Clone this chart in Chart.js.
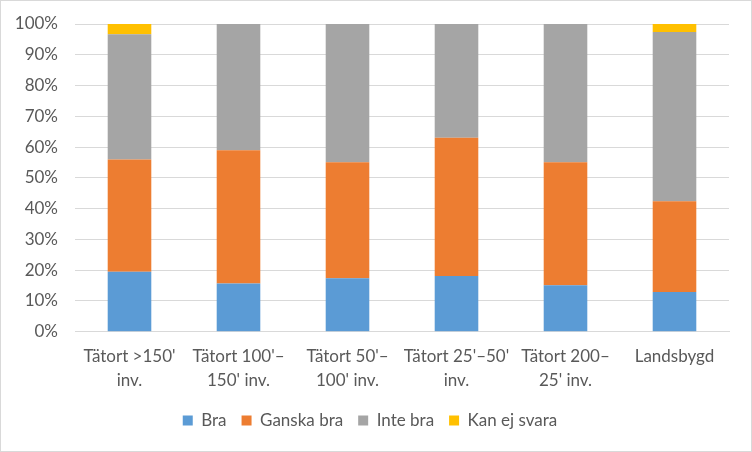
<!DOCTYPE html>
<html>
<head>
<meta charset="utf-8">
<script src="https://cdn.jsdelivr.net/npm/chart.js@4/dist/chart.umd.min.js"></script>
<style>
  html, body { margin: 0; padding: 0; background: #fff; }
  #wrap { width: 750px; height: 450px; border: 1px solid #d9d9d9; }
</style>
</head>
<body>
<div id="wrap"><canvas id="chart" width="750" height="450"></canvas></div>
<script>
// andelar i procent
const categories = [
  ["Tätort >150'", 'inv.'],
  ["Tätort 100'–", "150' inv."],
  ["Tätort 50'–", "100' inv."],
  ["Tätort 25'–50'", 'inv.'],
  ['Tätort 200–', "25' inv."],
  'Landsbygd'
];
const bra = [19.5, 15.7, 17.4, 18.1, 15.1, 12.9];
const ganskaBra = [36.5, 43.3, 37.7, 44.9, 40.0, 29.5];
const inteBra = [40.7, 41.0, 44.9, 37.0, 44.9, 55.0];
const kanEjSvara = [3.3, 0, 0, 0, 0, 2.6];

const textColor = '#595959';
const gridColor = '#d9d9d9';
const font = { family: 'Lato, "Open Sans", sans-serif', size: 17 };

const ctx = document.getElementById('chart').getContext('2d');
new Chart(ctx, {
  type: 'bar',
  data: {
    labels: categories,
    datasets: [
      { label: 'Bra', data: bra, backgroundColor: '#5b9bd5' },
      { label: 'Ganska bra', data: ganskaBra, backgroundColor: '#ed7d31' },
      { label: 'Inte bra', data: inteBra, backgroundColor: '#a5a5a5' },
      { label: 'Kan ej svara', data: kanEjSvara, backgroundColor: '#ffc000' }
    ]
  },
  options: {
    responsive: false,
    animation: false,
    datasets: { bar: { barPercentage: 0.4, categoryPercentage: 1 } },
    layout: { padding: { left: 10, right: 22, top: 23, bottom: 12 } },
    plugins: {
      legend: {
        position: 'bottom',
        labels: { color: textColor, font, boxWidth: 10, boxHeight: 10, padding: 15 }
      },
      tooltip: { enabled: false }
    },
    scales: {
      x: {
        stacked: true,
        grid: { display: false },
        border: { color: gridColor, width: 1 },
        ticks: { color: textColor, font: { ...font, lineHeight: 1.45 }, maxRotation: 0, padding: 4 }
      },
      y: {
        stacked: true,
        min: 0,
        max: 100,
        grid: { color: gridColor, lineWidth: 1, drawTicks: false },
        border: { display: false },
        ticks: {
          color: textColor, font, stepSize: 10, padding: 17,
          callback: v => v + '%'
        },
        afterFit: scale => {
          scale.width = 64;
          scale.paddingTop = 0;
        }
      }
    }
  }
});
</script>
</body>
</html>
